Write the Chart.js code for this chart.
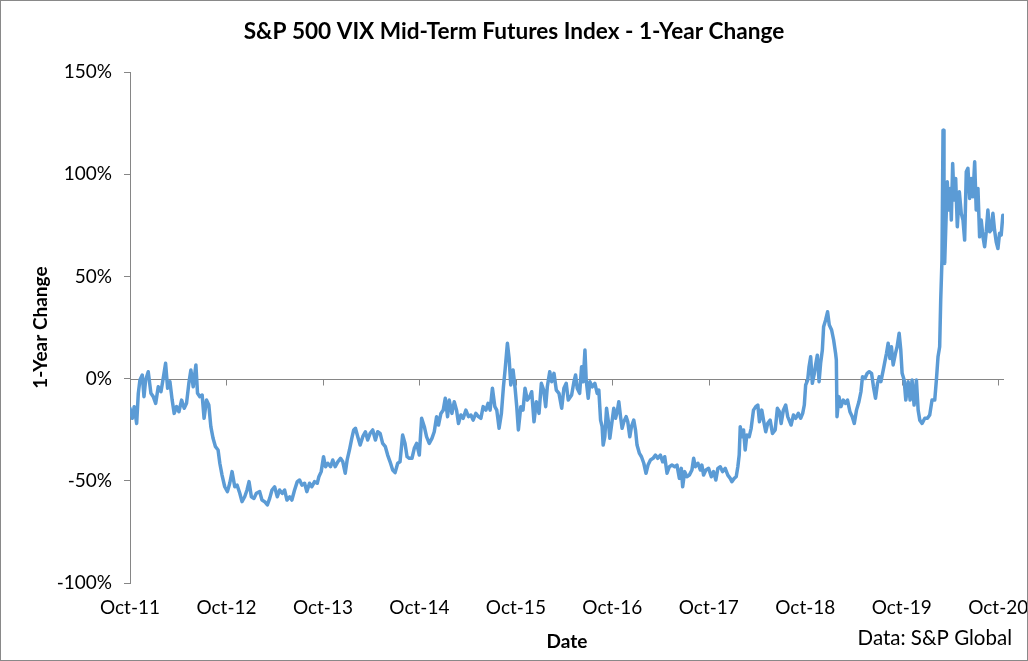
<!DOCTYPE html>
<html>
<head>
<meta charset="utf-8">
<script src="https://cdn.jsdelivr.net/npm/chart.js@4.4.1/dist/chart.umd.min.js"></script>
<style>
  html, body { margin:0; padding:0; background:#fff; }
  canvas { display:block; }
</style>
</head>
<body>
<canvas id="vixChart" width="1028" height="661"></canvas>
<script>
// years since Oct-11
const dates = [
  0, 0.024, 0.044, 0.069, 0.086, 0.103, 0.127, 0.145, 0.162, 0.189, 0.217, 0.241, 0.266, 0.293, 0.321, 0.344,
  0.369, 0.390, 0.414, 0.437, 0.458, 0.483, 0.507, 0.535, 0.562, 0.586, 0.610, 0.631, 0.655, 0.683, 0.700, 0.724,
  0.748, 0.768, 0.793, 0.817, 0.838, 0.861, 0.886, 0.913, 0.931, 0.954, 0.982, 1.010, 1.034, 1.058, 1.086, 1.110,
  1.138, 1.161, 1.189, 1.213, 1.234, 1.258, 1.285, 1.310, 1.344, 1.368, 1.396, 1.424, 1.448, 1.472, 1.499, 1.527,
  1.551, 1.579, 1.603, 1.627, 1.655, 1.678, 1.706, 1.734, 1.758, 1.782, 1.810, 1.833, 1.861, 1.885, 1.913, 1.941,
  1.958, 1.982, 2.006, 2.027, 2.051, 2.079, 2.102, 2.127, 2.154, 2.182, 2.206, 2.231, 2.251, 2.275, 2.299, 2.319,
  2.337, 2.361, 2.386, 2.413, 2.440, 2.464, 2.489, 2.516, 2.544, 2.568, 2.593, 2.619, 2.647, 2.671, 2.696, 2.723,
  2.748, 2.775, 2.799, 2.826, 2.851, 2.872, 2.895, 2.923, 2.947, 2.971, 2.999, 3.023, 3.051, 3.074, 3.102, 3.130,
  3.154, 3.178, 3.198, 3.223, 3.247, 3.268, 3.292, 3.309, 3.337, 3.361, 3.385, 3.405, 3.430, 3.454, 3.482, 3.509,
  3.534, 3.557, 3.585, 3.612, 3.637, 3.661, 3.689, 3.712, 3.733, 3.757, 3.782, 3.802, 3.826, 3.850, 3.871, 3.888,
  3.912, 3.930, 3.947, 3.971, 3.992, 4.009, 4.026, 4.051, 4.074, 4.095, 4.119, 4.144, 4.164, 4.188, 4.212, 4.240,
  4.264, 4.288, 4.309, 4.326, 4.351, 4.371, 4.395, 4.419, 4.447, 4.475, 4.498, 4.522, 4.543, 4.578, 4.602, 4.619,
  4.636, 4.661, 4.681, 4.698, 4.716, 4.729, 4.750, 4.767, 4.791, 4.819, 4.843, 4.860, 4.878, 4.894, 4.905, 4.922,
  4.940, 4.957, 4.974, 4.992, 5.015, 5.033, 5.050, 5.067, 5.085, 5.101, 5.119, 5.143, 5.160, 5.181, 5.198, 5.222,
  5.240, 5.256, 5.281, 5.302, 5.326, 5.349, 5.370, 5.395, 5.422, 5.447, 5.470, 5.498, 5.522, 5.543, 5.567, 5.591,
  5.618, 5.646, 5.670, 5.695, 5.715, 5.729, 5.750, 5.773, 5.798, 5.825, 5.843, 5.860, 5.887, 5.912, 5.928, 5.946,
  5.970, 5.998, 6.026, 6.049, 6.073, 6.094, 6.119, 6.142, 6.170, 6.197, 6.222, 6.239, 6.263, 6.284, 6.301, 6.315,
  6.326, 6.342, 6.360, 6.377, 6.394, 6.419, 6.439, 6.463, 6.487, 6.508, 6.525, 6.549, 6.567, 6.590, 6.611, 6.636,
  6.660, 6.688, 6.711, 6.732, 6.750, 6.773, 6.797, 6.818, 6.853, 6.877, 6.900, 6.928, 6.952, 6.973, 6.990, 7.004,
  7.025, 7.039, 7.056, 7.073, 7.094, 7.107, 7.125, 7.143, 7.159, 7.177, 7.190, 7.211, 7.231, 7.249, 7.273, 7.294,
  7.314, 7.322, 7.329, 7.349, 7.370, 7.394, 7.418, 7.438, 7.463, 7.487, 7.508, 7.531, 7.556, 7.577, 7.593, 7.618,
  7.642, 7.663, 7.687, 7.707, 7.728, 7.749, 7.766, 7.784, 7.808, 7.825, 7.842, 7.859, 7.877, 7.893, 7.911, 7.935,
  7.952, 7.973, 7.990, 8.004, 8.025, 8.042, 8.066, 8.087, 8.107, 8.128, 8.152, 8.170, 8.187, 8.211, 8.239, 8.266,
  8.290, 8.314, 8.342, 8.359, 8.376, 8.393, 8.404, 8.417, 8.428, 8.438, 8.445, 8.459, 8.472, 8.487, 8.503, 8.514,
  8.528, 8.542, 8.559, 8.576, 8.597, 8.617, 8.635, 8.652, 8.669, 8.686, 8.704, 8.720, 8.738, 8.756, 8.772, 8.790,
  8.807, 8.824, 8.842, 8.859, 8.876, 8.893, 8.911, 8.927, 8.945, 8.962, 8.979, 8.997, 9.014, 9.031, 9.048
];

// 1-year change, %
const change = [
  -14.5, -19.4, -13.7, -21.9, -7.2, -0.7, 1.8, -8.8, -0.7, 3.4, -7.2, -8.8, -12.1, -4.0, -6.4, 0.1,
  7.5, -4.7, -1.5, -10.5, -17.0, -13.7, -16.2, -10.5, -14.5, -12.1, -2.3, 4.2, -4.0, 6.7, -7.2, -8.8,
  -8.0, -19.4, -10.5, -12.9, -23.5, -29.2, -33.3, -34.9, -41.4, -47.2, -52.9, -55.3, -51.2, -45.5, -52.9, -52.1,
  -56.1, -60.2, -57.8, -54.5, -50.4, -57.8, -58.6, -56.1, -55.3, -59.4, -60.2, -61.8, -58.6, -54.5, -52.9, -57.8,
  -54.5, -56.1, -54.5, -59.4, -57.8, -59.4, -54.5, -50.4, -49.6, -52.1, -51.2, -55.3, -51.2, -52.9, -50.4, -51.2,
  -48.0, -45.5, -38.2, -43.1, -41.4, -43.1, -39.8, -43.1, -40.7, -39.0, -40.7, -46.3, -39.8, -34.9, -29.2, -25.1,
  -24.3, -28.4, -32.5, -28.4, -26.0, -30.0, -26.8, -25.1, -30.0, -26.0, -26.8, -31.7, -33.3, -37.4, -40.7, -44.7,
  -46.0, -41.4, -40.7, -27.6, -31.7, -38.2, -39.0, -39.0, -34.1, -31.7, -37.4, -19.4, -23.5, -28.4, -31.7, -29.2,
  -26.0, -18.6, -22.7, -17.0, -15.4, -9.6, -18.6, -10.5, -17.0, -11.3, -15.4, -21.9, -17.8, -19.4, -15.4, -18.6,
  -17.8, -20.3, -17.0, -18.6, -19.4, -13.7, -15.4, -12.1, -15.4, -4.7, -13.7, -15.4, -24.3, -17.0, -4.0, 4.2,
  17.3, 9.9, -3.1, 4.2, -4.7, -13.7, -25.1, -13.7, -15.4, -4.7, -10.5, -8.8, -6.4, -21.1, -11.3, -17.0,
  -2.3, -5.6, -13.7, -4.0, 3.4, -1.5, 2.6, -5.6, -7.2, -14.5, -4.7, -2.3, -10.5, -8.0, -1.5, 1.8,
  -4.7, -7.2, 5.8, -1.5, 14.0, -0.7, -9.6, -1.5, -4.0, -2.3, -7.2, -5.6, -20.3, -23.5, -32.5, -28.4,
  -14.5, -20.3, -29.2, -22.7, -14.5, -19.4, -16.2, -11.3, -18.6, -24.3, -21.1, -18.6, -21.1, -28.4, -23.5, -20.3,
  -25.1, -32.5, -36.6, -38.2, -41.4, -46.3, -42.3, -39.8, -39.0, -37.4, -39.0, -37.4, -40.7, -38.2, -46.3, -43.1,
  -42.3, -43.1, -42.3, -48.8, -43.9, -52.9, -45.5, -48.0, -47.2, -44.7, -39.0, -43.1, -41.4, -44.7, -42.3, -47.2,
  -44.7, -43.9, -48.0, -45.5, -49.6, -43.9, -43.1, -45.5, -43.9, -47.2, -48.8, -50.4, -48.8, -48.0, -43.1, -37.4,
  -23.5, -28.4, -25.1, -34.9, -27.6, -28.4, -24.3, -15.4, -13.7, -12.9, -21.1, -15.4, -20.3, -26.0, -21.9, -20.3,
  -26.8, -25.1, -14.5, -16.2, -21.9, -15.4, -12.9, -18.6, -22.7, -17.8, -19.4, -17.0, -19.4, -17.0, -12.9, -3.1,
  -0.7, 5.8, 10.7, -2.3, 2.6, 6.7, 11.5, -1.5, 7.5, 14.0, 25.4, 28.7, 32.7, 26.2, 23.8, 18.9,
  12.4, 9.1, -18.6, -8.8, -13.7, -10.5, -12.1, -10.5, -16.2, -18.6, -21.9, -15.4, -11.3, -6.4, 0.9, 0.1,
  2.6, 3.4, 2.6, -4.0, -9.6, -2.3, 0.9, -1.5, 4.2, 8.3, 12.4, 17.3, 9.9, 15.6, 6.7, 12.4,
  15.6, 22.2, 14.0, 2.6, -0.7, -10.5, -1.5, -10.5, -0.7, -12.9, -0.7, -15.4, -20.3, -21.9, -19.4, -19.4,
  -17.8, -10.5, -10.5, -0.7, 10.7, 15.6, 38.5, 58.0, 121.6, 85.8, 56.4, 77.6, 96.3, 82.5, 93.1, 77.6,
  105.3, 87.4, 98.0, 74.3, 91.4, 80.9, 77.6, 67.8, 101.2, 102.9, 88.2, 98.0, 89.0, 106.1, 82.5, 93.1,
  69.4, 77.6, 69.4, 64.5, 71.9, 82.5, 71.9, 72.7, 80.9, 72.7, 67.0, 63.7, 71.1, 70.3, 80.0
];

const tickLabels = ['Oct-11','Oct-12','Oct-13','Oct-14','Oct-15','Oct-16','Oct-17','Oct-18','Oct-19','Oct-20'];
const yTicks = [-100, -50, 0, 50, 100, 150];

const axisGray = '#868686';
const fontFamily = 'Lato, "Liberation Sans", sans-serif';

// white background + outer frame + source note
const framePlugin = {
  id: 'frame',
  beforeDraw(chart){
    const c = chart.ctx;
    c.save();
    c.fillStyle = '#fff';
    c.fillRect(0, 0, chart.width, chart.height);
    c.restore();
  },
  afterDraw(chart){
    const c = chart.ctx;
    c.save();
    c.strokeStyle = '#898989';
    c.lineWidth = 1;
    c.strokeRect(0.5, 0.5, chart.width - 1, chart.height - 1);
    c.fillStyle = '#000';
    c.font = '20.5px ' + fontFamily;
    c.textAlign = 'right';
    c.textBaseline = 'middle';
    c.fillText('Data: S&P Global', 1012, 638);
    c.restore();
  }
};

// horizontal axis crosses at 0%, with its tick marks there
const zeroAxisPlugin = {
  id: 'zeroAxis',
  beforeDatasetsDraw(chart){
    const {ctx, chartArea, scales:{x, y}} = chart;
    const y0 = Math.round(y.getPixelForValue(0)) + 0.5;
    ctx.save();
    ctx.strokeStyle = axisGray;
    ctx.lineWidth = 1;
    ctx.beginPath();
    ctx.moveTo(chartArea.left, y0);
    ctx.lineTo(chartArea.right, y0);
    tickLabels.forEach((l, i) => {
      const px = Math.round(x.getPixelForValue(i)) + 0.5;
      ctx.moveTo(px, y0);
      ctx.lineTo(px, y0 + 6);
    });
    ctx.stroke();
    ctx.restore();
  }
};

new Chart(document.getElementById('vixChart'), {
  type: 'line',
  data: {
    datasets: [{
      data: dates.map((d, i) => ({x: d, y: change[i]})),
      borderColor: '#5B9BD5',
      borderWidth: 3.5,
      borderJoinStyle: 'round',
      borderCapStyle: 'round',
      pointRadius: 0,
      tension: 0,
      fill: false
    }]
  },
  options: {
    responsive: false,
    animation: false,
    devicePixelRatio: 1,
    layout: { padding: { top: 0, left: 24, right: 24, bottom: 0 } },
    plugins: {
      legend: { display: false },
      tooltip: { enabled: false },
      title: {
        display: true,
        text: 'S&P 500 VIX Mid-Term Futures Index - 1-Year Change',
        color: '#000',
        font: { family: fontFamily, size: 22.6, weight: 'bold' },
        padding: { top: 18, bottom: 27 }
      }
    },
    scales: {
      x: {
        type: 'linear',
        min: 0,
        max: 9.06,
        afterBuildTicks: s => { s.ticks = tickLabels.map((l, i) => ({value: i})); },
        afterFit: s => { s.height = 78; s.paddingLeft = 0; s.paddingRight = 0; },
        ticks: {
          color: '#000',
          font: { family: fontFamily, size: 19 },
          padding: 13,
          maxRotation: 0,
          autoSkip: false,
          callback: (v, i) => tickLabels[i]
        },
        grid: { display: false, drawTicks: false },
        border: { display: false },
        title: {
          display: true,
          text: 'Date',
          color: '#000',
          font: { family: fontFamily, size: 19, weight: 'bold' },
          padding: { top: 0, bottom: 8 }
        }
      },
      y: {
        min: -100,
        max: 150,
        afterBuildTicks: s => { s.ticks = yTicks.map(v => ({value: v})); },
        afterFit: s => { s.width = 106; },
        ticks: {
          color: '#000',
          font: { family: fontFamily, size: 19 },
          padding: 12,
          callback: v => v + '%'
        },
        grid: { drawOnChartArea: false, tickLength: 6, color: axisGray },
        border: { display: true, color: axisGray },
        title: {
          display: true,
          text: '1-Year Change',
          color: '#000',
          font: { family: fontFamily, size: 19, weight: 'bold' },
          padding: { top: 5, bottom: 0 }
        }
      }
    }
  },
  plugins: [framePlugin, zeroAxisPlugin]
});
</script>
</body>
</html>
